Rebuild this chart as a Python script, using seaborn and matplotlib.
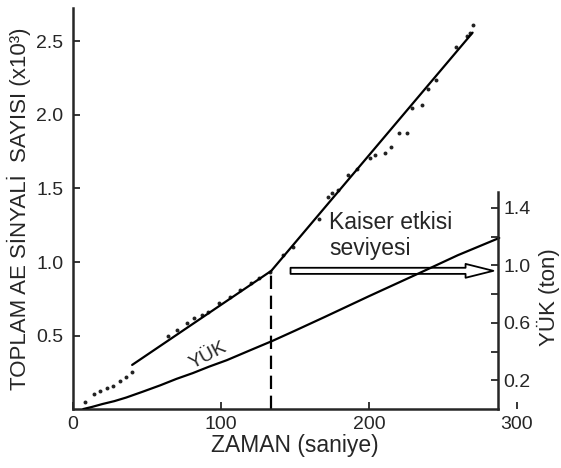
import numpy as np
import pandas as pd
import matplotlib
matplotlib.use('Agg')
import matplotlib.pyplot as plt
import seaborn as sns

# AE signal counts (x10^3)
ae_time = [8, 14, 18, 23, 27, 32, 36, 40,
           64, 70, 77, 82, 87, 91, 99, 106, 113, 120, 126,
           133, 142, 149, 166, 172, 175, 179, 186, 192, 201, 204, 211, 215,
           220, 226, 229, 236, 240, 245, 259, 266, 268, 270]
ae_count = [0.05, 0.10, 0.12, 0.14, 0.16, 0.19, 0.22, 0.25,
            0.50, 0.54, 0.585, 0.62, 0.64, 0.66, 0.72, 0.76, 0.81, 0.86, 0.89,
            0.93, 1.05, 1.10, 1.29, 1.44, 1.47, 1.49, 1.59, 1.63, 1.71, 1.73, 1.74, 1.78,
            1.88, 1.88, 2.05, 2.07, 2.18, 2.24, 2.46, 2.54, 2.56, 2.61]

# fitted lines, before and after the Kaiser point
fit1_time = [40, 134]
fit1_count = [0.30, 0.94]
fit2_time = [134, 270]
fit2_count = [0.94, 2.56]

# load curve (ton)
load_time = [7, 13, 20, 28, 36, 47, 59, 70, 81, 92, 104, 120, 135, 150, 170, 200, 236, 260, 288]
load_ton = [0.0, 0.015, 0.035, 0.055, 0.08, 0.12, 0.165, 0.21, 0.25, 0.295, 0.34, 0.41, 0.475,
            0.545, 0.64, 0.785, 0.955, 1.07, 1.19]

kaiser_time = 134
kaiser_level = 0.94

x_ticks = [0, 100, 200, 300]
left_ticks = [0.5, 1.0, 1.5, 2.0, 2.5]
right_ticks = [0.2, 0.6, 1.0, 1.4]
right_minor = [0.4, 0.8, 1.2]

sns.set_style('ticks')
plt.rcParams['font.family'] = ['Liberation Sans', 'DejaVu Sans']

fig = plt.figure(figsize=(5.61, 4.68), dpi=100)
ax = fig.add_axes([0.130, 0.126, 0.7916, 0.857])

ae = pd.DataFrame({'t': ae_time, 'n': ae_count})
sns.scatterplot(data=ae, x='t', y='n', ax=ax, s=8, marker='o', color='#222222', linewidth=0)
sns.lineplot(x=fit1_time, y=fit1_count, ax=ax, color='black', lw=1.6)
sns.lineplot(x=fit2_time, y=fit2_count, ax=ax, color='black', lw=1.6)
ax.plot([kaiser_time, kaiser_time], [0, kaiser_level], color='black', lw=1.6,
        linestyle=(0, (6, 3)))

ax.set_xlim(0, 300)
ax.set_ylim(0, 2.728)
ax.set_xticks(x_ticks)
ax.set_yticks(left_ticks)
ax.set_yticklabels(['%.1f' % v for v in left_ticks])
ax.tick_params(direction='in', length=5, width=1.3, labelsize=14)
ax.tick_params(axis='x', pad=5)
ax.tick_params(axis='y', pad=7)
ax.spines['top'].set_visible(False)
ax.spines['right'].set_visible(False)
ax.spines['bottom'].set_bounds(0, 287)
for s in ['left', 'bottom']:
    ax.spines[s].set_linewidth(1.8)
ax.set_xlabel('ZAMAN (saniye)', fontsize=16.5, labelpad=1)
ax.set_ylabel('TOPLAM AE SİNYALİ  SAYISI (x10³)', fontsize=16, labelpad=4)

ax2 = ax.twinx()
sns.lineplot(x=load_time, y=load_ton, ax=ax2, color='black', lw=1.6)
ax2.set_ylim(0, 2.79)
ax2.spines['right'].set_position(('data', 287))
ax2.spines['right'].set_bounds(0, 1.51)
ax2.spines['right'].set_linewidth(1.8)
for s in ['top', 'left', 'bottom']:
    ax2.spines[s].set_visible(False)
ax2.set_yticks(right_ticks)
ax2.set_yticklabels(['%.1f' % v for v in right_ticks])
ax2.set_yticks(right_minor, minor=True)
ax2.tick_params(which='both', direction='in', length=5, width=1.3, labelsize=14, pad=4)
ax2.set_ylabel('YÜK (ton)', fontsize=16)
ax2.yaxis.set_label_coords(1.045, 0.28)

ax2.text(91, 0.37, 'YÜK', fontsize=14, rotation=28, ha='center', va='center')

ax.annotate('', xy=(284, kaiser_level), xytext=(147, kaiser_level),
            arrowprops=dict(arrowstyle='simple,head_length=1.0,head_width=0.5,tail_width=0.22',
                            mutation_scale=20, fc='white', ec='black', lw=1.3,
                            shrinkA=0, shrinkB=0))
ax.text(173, 1.18, 'Kaiser etkisi\nseviyesi', fontsize=16.5, ha='left', va='center',
        linespacing=1.15)

fig.savefig('out.png', dpi=100)
